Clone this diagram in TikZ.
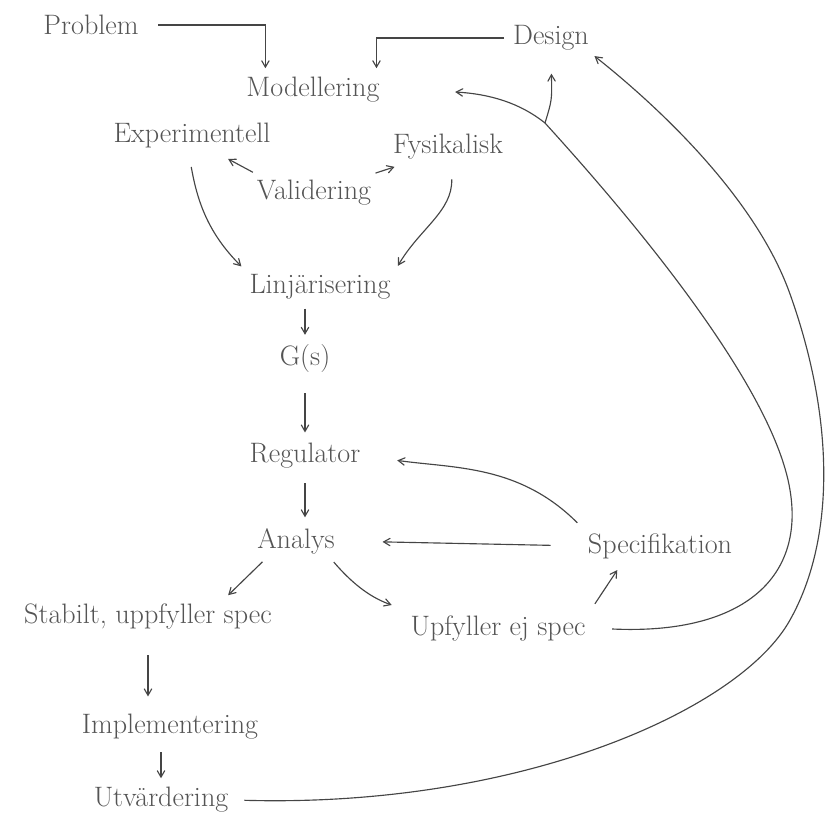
\documentclass[tikz,border=0pt]{standalone}
\usetikzlibrary{arrows,calc}
\definecolor{PenClr}{rgb}{0.27,0.27,0.27}
\definecolor{InkClr}{rgb}{0.33,0.33,0.33}

\begin{document}
\begin{tikzpicture}[x=0.02cm,y=-0.02cm,
  word/.style={font=\fontsize{16}{19}\selectfont,text=InkClr,inner sep=3pt},
  pen/.style={draw=PenClr,line width=0.65pt,->,>=angle 60,shorten >=2pt,shorten <=2pt}]
\useasboundingbox (0,0) rectangle (827,835);

\node[word] (Pr) at (91,25) {Problem};
\node[word] (Mo) at (313,90) {Modellering};
\node[word] (De) at (551,38) {Design};
\node[word] (Ex) at (192,135) {Experimentell};
\node[word] (Fy) at (448,147) {Fysikalisk};
\node[word] (Va) at (314,193) {Validering};
\node[word] (Li) at (320,287) {Linjärisering};
\node[word] (Gs) at (305,358) {G(s)};
\node[word] (Re) at (305,456) {Regulator};
\node[word] (An) at (296,541) {Analys};
\node[word] (Sp) at (660,546) {Specifikation};
\node[word] (St) at (148,616) {Stabilt, uppfyller spec};
\node[word] (Uf) at (498,628) {Upfyller ej spec};
\node[word] (Im) at (170,727) {Implementering};
\node[word] (Ut) at (161,800) {Utvärdering};

\coordinate (br) at (545,123);
\coordinate (mIn) at ($(Mo.east)+(70,2)$);

\draw[pen,shorten <=8pt] (Pr.east) -| ($(Mo.north west)!.17!(Mo.north east)$);
\draw[pen] (De.west) -| ($(Mo.north west)!.94!(Mo.north east)$);

\draw[pen,shorten <=8pt] (Ex.-100) to[out=-80,in=135] (Li.north west);
\draw[pen,shorten <=8pt] (Fy.-80) to[out=-88,in=60] (Li.north east);
\draw[pen,shorten <=3pt,shorten >=7pt] ($(Va.north west)!.05!(Va.north east)$) -- ($(Ex.south east)!.35!(Ex.south west)$);
\draw[pen,shorten <=3pt,shorten >=3pt] ($(Va.north east)!.05!(Va.north west)$) -- ($(Fy.south west)!.1!(Fy.south east)$);

\draw[pen] (Li.south -| Gs.north) -- (Gs.north);
\draw[pen,shorten <=9pt,shorten >=3pt] (Gs.south) -- (Re.north);
\draw[pen,shorten <=5pt,shorten >=3pt] (Re.south) -- (Re.south |- An.north);

\draw[pen,shorten <=4pt,shorten >=18pt] (Sp.north west) to[out=135,in=-8] (Re.east);
\draw[pen,shorten <=18pt,shorten >=24pt] (Sp.west) -- (An.east);

\draw[pen,shorten <=2pt] ($(An.south west)!.15!(An.south east)$) -- ($(St.north east)!.2!(St.north west)$);
\draw[pen,shorten >=8pt] ($(An.south east)!.1!(An.south west)$) to[bend right=15] (Uf.north west);
\draw[pen,shorten <=4pt,shorten >=4pt] (Uf.north east) -- ($(Sp.south west)!.25!(Sp.south east)$);

\draw[pen,shorten <=12pt,shorten >=7pt] (St.south) -- (St.south |- Im.north);
\draw[pen,shorten <=4pt] (Im.south -| Ut.north) -- (Ut.north);

\draw[pen,shorten <=12pt,shorten >=0pt] (Uf.east) .. controls (740,635) and (805,580) .. (790,490)
  .. controls (772,380) and (615,200) .. (br) .. controls (520,103) and (490,94) .. (mIn);
\draw[pen,shorten <=0pt,shorten >=10pt] (br) .. controls (552,100) .. (De.south);
\draw[pen,shorten <=6pt,shorten >=0pt] (Ut.east) .. controls (520,808) and (740,710) .. (790,620)
  .. controls (835,540) and (835,420) .. (790,294) .. controls (754,193) and (650,100) .. (De.south east);

\end{tikzpicture}
\end{document}
